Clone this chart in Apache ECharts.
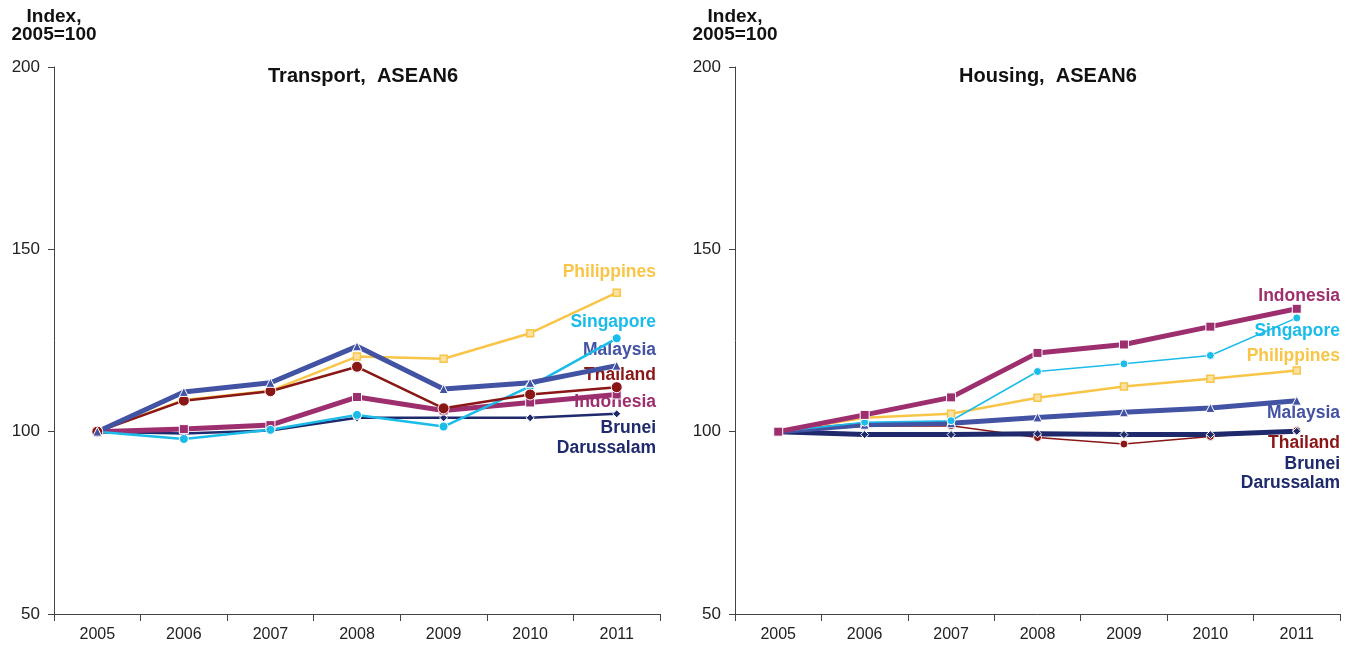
<!DOCTYPE html>
<html>
<head>
<meta charset="utf-8">
<script src="https://cdn.jsdelivr.net/npm/echarts@6/dist/echarts.min.js"></script>
<style>
  html, body { margin: 0; padding: 0; background: #fff; }
  #chart { width: 1345px; height: 645px; }
</style>
</head>
<body>
<div id="chart"></div>
<script>
// categories
var years = ['2005', '2006', '2007', '2008', '2009', '2010', '2011']

// Transport index, 2005=100
var trMalaysia = [100, 110.9, 113.4, 123.4, 111.7, 113.4, 118.1]
var trPhilippines = [100, 108.7, 111.2, 120.6, 120.0, 127.0, 138.1]
var trThailand = [100, 108.5, 111.1, 117.8, 106.4, 110.2, 112.2]
var trIndonesia = [100, 100.7, 101.8, 109.5, 105.8, 108.0, 110.2]
var trSingapore = [100, 98.0, 100.5, 104.6, 101.4, 112.4, 125.6]
var trBrunei = [100, 99.5, 100.3, 103.8, 103.8, 103.8, 104.9]

// Housing index, 2005=100
var hoIndonesia = [100, 104.6, 109.4, 121.6, 123.9, 128.8, 133.7]
var hoSingapore = [100, 102.6, 103.0, 116.5, 118.6, 120.9, 131.2]
var hoPhilippines = [100, 103.8, 104.9, 109.3, 112.4, 114.5, 116.8]
var hoMalaysia = [100, 101.9, 102.3, 103.9, 105.3, 106.5, 108.5]
var hoThailand = [100, 101.5, 101.6, 98.4, 96.6, 98.7, 100.3]
var hoBrunei = [100, 99.2, 99.2, 99.4, 99.2, 99.2, 100.1]

var yTicks = { min: 50, max: 200, interval: 50 }

var FONT = '"Liberation Sans", Arial, Helvetica, sans-serif'
var C = {
  malaysia: '#4353a4',
  philippines: '#f8c548',
  thailand: '#8a1616',
  indonesia: '#9e2f6f',
  singapore: '#1bbbea',
  brunei: '#1f2a6c'
}

var chart = echarts.init(document.getElementById('chart'))

function xAxis(idx) {
  return {
    type: 'category',
    gridIndex: idx,
    data: years,
    boundaryGap: true,
    axisLine: { lineStyle: { color: '#444', width: 1 } },
    axisTick: { show: true, length: 7, lineStyle: { color: '#444' } },
    axisLabel: { color: '#222', fontSize: 16, fontFamily: FONT, margin: 13 }
  }
}

function yAxis(idx) {
  return {
    type: 'value',
    gridIndex: idx,
    min: yTicks.min,
    max: yTicks.max,
    interval: yTicks.interval,
    name: 'Index,\n2005=100',
    nameLocation: 'end',
    nameGap: 23,
    nameTextStyle: { color: '#111', fontSize: 19, fontWeight: 'bold', fontFamily: FONT, lineHeight: 18, align: 'center' },
    axisLine: { show: true, lineStyle: { color: '#444', width: 1 } },
    axisTick: { show: true, length: 6, lineStyle: { color: '#444' } },
    splitLine: { show: false },
    axisLabel: { color: '#222', fontSize: 17, fontFamily: FONT, margin: 14 }
  }
}

function line(idx, data, color, width, symbol, size, fill) {
  return {
    type: 'line',
    xAxisIndex: idx,
    yAxisIndex: idx,
    data: data,
    symbol: symbol,
    symbolSize: size,
    showSymbol: true,
    lineStyle: { color: color, width: width },
    itemStyle: { color: fill || color, borderColor: fill ? color : '#fff', borderWidth: fill ? 1.5 : 1 },
    emphasis: { disabled: true }
  }
}

function label(x, y, text, color) {
  return {
    type: 'text',
    x: x,
    y: y,
    style: {
      text: text,
      fill: color,
      font: 'bold 17.5px ' + FONT,
      textAlign: 'right',
      textVerticalAlign: 'middle',
      align: 'right',
      verticalAlign: 'middle'
    }
  }
}

chart.setOption({
  animation: false,
  textStyle: { fontFamily: FONT },
  title: [
    { text: 'Transport,  ASEAN6', left: 358, top: 61, textAlign: 'center',
      textStyle: { fontSize: 20, fontWeight: 'bold', color: '#111', fontFamily: FONT } },
    { text: 'Housing,  ASEAN6', left: 1043, top: 61, textAlign: 'center',
      textStyle: { fontSize: 20, fontWeight: 'bold', color: '#111', fontFamily: FONT } }
  ],
  grid: [
    { left: 54, top: 67, width: 606, height: 547 },
    { left: 735, top: 67, width: 605, height: 547 }
  ],
  xAxis: [xAxis(0), xAxis(1)],
  yAxis: [yAxis(0), yAxis(1)],
  series: [
    line(0, trBrunei, C.brunei, 2.5, 'diamond', 8),
    line(0, trIndonesia, C.indonesia, 5, 'rect', 9),
    line(0, trSingapore, C.singapore, 2.5, 'circle', 9),
    line(0, trPhilippines, C.philippines, 2.5, 'rect', 7, '#fbe2a0'),
    line(0, trThailand, C.thailand, 2.5, 'circle', 11),
    line(0, trMalaysia, C.malaysia, 5, 'triangle', 9),

    line(1, hoThailand, C.thailand, 1.5, 'circle', 8),
    line(1, hoBrunei, C.brunei, 5, 'diamond', 8),
    line(1, hoMalaysia, C.malaysia, 5, 'triangle', 9),
    line(1, hoPhilippines, C.philippines, 2.5, 'rect', 7, '#fbe2a0'),
    line(1, hoSingapore, C.singapore, 1.5, 'circle', 8),
    line(1, hoIndonesia, C.indonesia, 5, 'rect', 9)
  ],
  graphic: [
    label(656, 272, 'Philippines', C.philippines),
    label(656, 322, 'Singapore', C.singapore),
    label(656, 350, 'Malaysia', C.malaysia),
    label(656, 375, 'Thailand', C.thailand),
    label(656, 402, 'Indonesia', C.indonesia),
    label(656, 428, 'Brunei', C.brunei),
    label(656, 448, 'Darussalam', C.brunei),

    label(1340, 296, 'Indonesia', C.indonesia),
    label(1340, 331, 'Singapore', C.singapore),
    label(1340, 356, 'Philippines', C.philippines),
    label(1340, 413, 'Malaysia', C.malaysia),
    label(1340, 443, 'Thailand', C.thailand),
    label(1340, 464, 'Brunei', C.brunei),
    label(1340, 483, 'Darussalam', C.brunei)
  ]
})
</script>
</body>
</html>
